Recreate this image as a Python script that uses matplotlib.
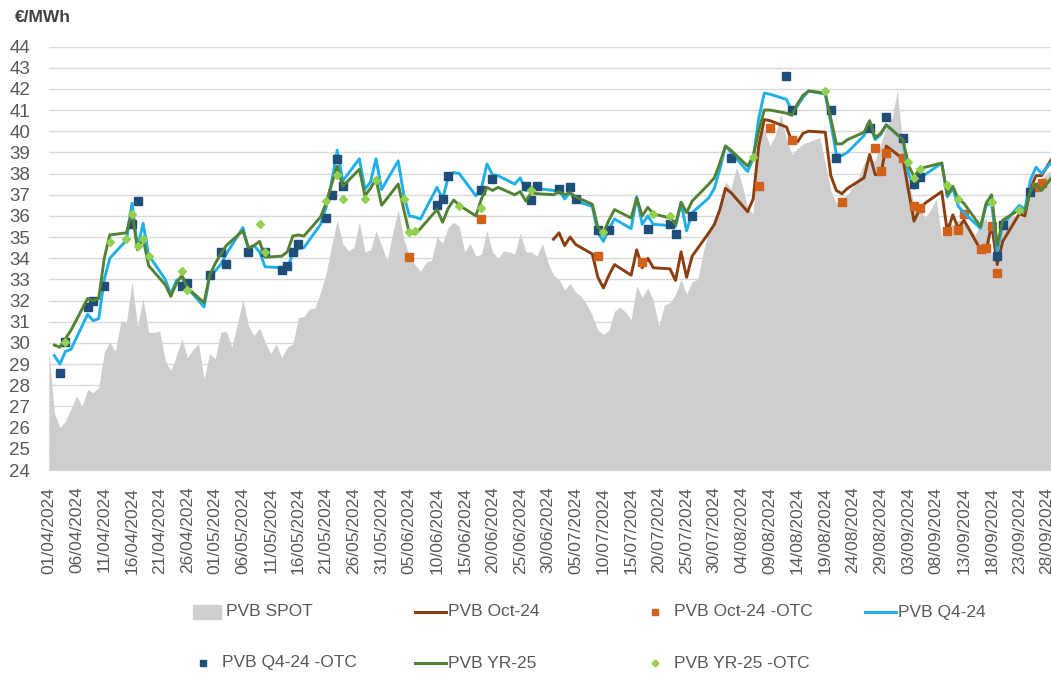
import pandas as pd
import matplotlib
matplotlib.use("Agg")
import matplotlib.pyplot as plt
import matplotlib.dates as mdates
from matplotlib.lines import Line2D
from matplotlib.patches import Rectangle

# daily spot, from 01/04/2024
spot_start = "2024-04-01"
spot = [29.6, 26.7, 26.0, 26.3, 26.9, 27.5, 27.0, 27.8, 27.65, 27.9,
        29.55, 30.05, 29.6, 31.05, 30.95, 32.9, 30.8, 32.1, 30.5, 30.5,
        30.55, 29.15, 28.7, 29.4, 30.2, 29.3, 29.7, 29.95, 28.3, 29.5,
        29.25, 30.5, 30.55, 29.8, 30.9, 32.05, 30.8, 30.35, 30.7, 30.05,
        29.5, 29.95, 29.3, 29.8, 29.95, 31.2, 31.25, 31.6, 31.65, 32.4,
        33.3, 34.6, 35.8, 34.7, 34.35, 34.5, 35.7, 34.3, 34.4, 35.3,
        34.6, 33.9, 35.2, 36.3, 34.9, 34.1, 33.7, 33.4, 33.8, 33.9,
        35.0, 34.7, 35.45, 35.7, 35.5, 34.3, 34.7, 34.1, 34.2, 35.3,
        34.3, 34.0, 34.35, 34.3, 34.2, 35.2, 34.3, 34.3, 34.1, 34.7,
        33.8, 33.2, 33.0, 32.5, 32.8, 32.4, 32.2, 31.8, 31.3, 30.6,
        30.4, 30.6, 31.5, 31.7, 31.45, 31.1, 32.7, 32.15, 32.6, 32.0,
        30.8, 31.8, 31.9, 32.3, 33.0, 32.3, 32.9, 33.0, 34.3, 35.3,
        35.6, 36.4, 37.6, 37.3, 38.3, 37.5, 36.4, 36.1, 39.7, 40.1,
        39.3, 39.8, 40.85, 39.6, 38.9, 39.2, 39.4, 39.5, 39.6, 39.7,
        38.5, 37.2, 36.6, 36.8, 37.0, 37.4, 37.8, 38.5, 38.7, 38.6,
        39.4, 40.2, 40.6, 41.9, 39.3, 37.6, 36.6, 36.4, 35.9, 36.3,
        36.8, 34.9, 35.7, 35.6, 35.8, 35.8, 35.5, 35.1, 35.6, 35.9,
        34.1, 35.0, 35.5, 35.9, 36.0, 36.1, 36.7, 37.3, 37.6, 37.8,
        38.0, 38.2, 38.4]

# forward settlements, business days
fwd_start = "2024-04-02"
fwd_end = "2024-09-30"
q4_24 = [29.4, 29.0, 29.6, 29.7,
         31.35, 31.05, 31.15, 33.0, 34.0,
         34.85, 36.6, 34.5, 35.65, 34.15,
         33.0, 32.3, 32.95, 33.1, 32.6,
         31.7, 33.15, 33.4, 33.7, 34.2,
         35.45, 34.4, 34.6, 34.3, 33.6,
         33.55, 33.55, 34.2, 34.45, 34.5,
         35.6, 36.4, 37.6, 39.1, 37.65,
         38.7, 37.25, 37.6, 38.7, 37.25,
         38.6, 37.0, 36.0, 35.95, 35.85,
         37.35, 36.8, 37.8, 38.05, 38.0,
         36.95, 37.3, 38.45, 37.95, 37.9,
         37.5, 37.8, 37.2, 37.35, 37.3,
         37.2, 37.2, 36.8, 37.1, 36.7,
         36.45, 35.2, 34.8, 35.4, 35.85,
         35.4, 36.9, 35.6, 36.0, 35.6,
         35.55, 35.5, 36.6, 35.3, 36.15,
         36.85, 37.3, 38.2, 39.3, 39.0,
         38.1, 38.7, 40.6, 41.8, 41.75,
         41.5, 40.95, 41.2, 41.6, 41.9,
         41.75, 40.4, 38.9, 38.85, 39.0,
         39.8, 40.3, 39.6, 39.85, 40.3,
         39.6, 38.0, 37.3, 37.75, 37.95,
         38.5, 36.9, 37.3, 36.45, 36.15,
         35.4, 36.5, 36.6, 34.3, 35.6,
         36.5, 36.3, 37.7, 38.3, 38.0,
         38.9]
yr_25 = [29.9, 29.8, 30.2, 30.6,
         32.1, 32.0, 32.1, 34.0, 35.1,
         35.2, 36.2, 34.4, 34.95, 33.65,
         32.75, 32.2, 32.8, 33.2, 32.6,
         31.9, 33.2, 33.75, 34.2, 34.6,
         35.3, 34.5, 34.6, 34.8, 34.05,
         34.1, 34.3, 35.05, 35.1, 35.05,
         35.95, 36.6, 37.5, 38.35, 37.4,
         38.2, 36.95, 37.3, 37.75, 36.5,
         37.5, 36.3, 35.2, 35.15, 35.4,
         36.3, 35.7, 36.35, 36.75, 36.5,
         36.0, 36.8, 37.35, 37.2, 37.35,
         37.0, 37.15, 36.7, 37.1, 37.05,
         37.0, 37.15, 37.0, 37.1, 36.9,
         36.55, 35.45, 35.2, 35.8, 36.3,
         35.9, 36.85, 36.0, 36.4, 36.1,
         35.9, 35.6, 36.65, 36.15, 36.7,
         37.5, 37.8, 38.5, 39.3, 39.1,
         38.35, 38.8, 40.0, 41.0, 41.0,
         40.85, 40.75, 41.3, 41.7, 41.9,
         41.8, 40.6, 39.4, 39.4, 39.6,
         39.95, 40.5, 39.7, 39.9, 40.3,
         39.6, 38.4, 37.85, 38.2, 38.3,
         38.5, 37.0, 37.4, 36.8, 36.6,
         35.5, 36.6, 37.0, 34.6, 35.8,
         36.3, 36.2, 37.2, 37.5, 37.2,
         38.2]
oct_start = "2024-07-01"
oct_24 = [34.9, 35.2, 34.6, 35.0, 34.65,
          34.2, 33.1, 32.6, 33.2, 33.7,
          33.2, 34.4, 33.55, 34.0, 33.55,
          33.5, 32.95, 34.3, 33.1, 34.1,
          35.2, 35.6, 36.3, 37.3, 37.1,
          36.2, 36.8, 39.3, 40.55, 40.5,
          40.2, 39.5, 39.5, 39.9, 40.0,
          39.95, 37.9, 37.2, 37.05, 37.3,
          37.8, 38.9, 37.95, 37.95, 39.3,
          38.7, 37.2, 35.75, 36.3, 36.6,
          37.15, 35.25, 36.05, 35.4, 35.8,
          34.4, 34.35, 35.6, 33.7, 34.8,
          36.1, 36.0, 37.3, 37.9, 37.9,
          39.2]

# OTC trades
oct_otc_dates = ["2024-06-05", "2024-06-18", "2024-07-09", "2024-07-17", "2024-08-07",
                 "2024-08-09", "2024-08-13", "2024-08-22", "2024-08-28", "2024-08-29",
                 "2024-08-30", "2024-09-02", "2024-09-04", "2024-09-05", "2024-09-10",
                 "2024-09-12", "2024-09-13", "2024-09-16", "2024-09-17", "2024-09-18",
                 "2024-09-19", "2024-09-26", "2024-09-27"]
oct_otc = [34.05, 35.85, 34.1, 33.8, 37.4,
           40.15, 39.6, 36.65, 39.2, 38.1,
           38.95, 38.75, 36.45, 36.35, 35.3,
           35.35, 36.1, 34.45, 34.5, 35.5,
           33.3, 37.35, 37.55]

q4_otc_dates = ["2024-04-03", "2024-04-04", "2024-04-08", "2024-04-09", "2024-04-11",
                "2024-04-16", "2024-04-17", "2024-04-25", "2024-04-26", "2024-04-30",
                "2024-05-02", "2024-05-03", "2024-05-07", "2024-05-10", "2024-05-13",
                "2024-05-14", "2024-05-15", "2024-05-16", "2024-05-21", "2024-05-22",
                "2024-05-23", "2024-05-24", "2024-06-10", "2024-06-11", "2024-06-12",
                "2024-06-18", "2024-06-20", "2024-06-26", "2024-06-27", "2024-06-28",
                "2024-07-02", "2024-07-04", "2024-07-05", "2024-07-09", "2024-07-11",
                "2024-07-18", "2024-07-22", "2024-07-23", "2024-07-26", "2024-08-02",
                "2024-08-12", "2024-08-13", "2024-08-20", "2024-08-21", "2024-08-27",
                "2024-08-30", "2024-09-02", "2024-09-04", "2024-09-05", "2024-09-19",
                "2024-09-20", "2024-09-25"]
q4_otc = [28.6, 30.05, 31.7, 32.0, 32.7,
          35.6, 36.7, 32.7, 32.85, 33.2,
          34.3, 33.75, 34.3, 34.3, 33.45,
          33.65, 34.3, 34.65, 35.9, 37.0,
          38.7, 37.4, 36.5, 36.8, 37.9,
          37.2, 37.75, 37.4, 36.75, 37.4,
          37.25, 37.35, 36.8, 35.35, 35.35,
          35.4, 35.6, 35.15, 36.0, 38.75,
          42.6, 41.0, 41.0, 38.75, 40.15,
          40.65, 39.7, 37.5, 37.85, 34.1,
          35.55, 37.15]

yr_otc_dates = ["2024-04-04", "2024-04-12", "2024-04-15", "2024-04-16", "2024-04-17",
                "2024-04-18", "2024-04-19", "2024-04-25", "2024-04-26", "2024-05-09",
                "2024-05-10", "2024-05-21", "2024-05-23", "2024-05-24", "2024-05-28",
                "2024-05-30", "2024-06-04", "2024-06-05", "2024-06-06", "2024-06-14",
                "2024-06-18", "2024-06-27", "2024-07-10", "2024-07-19", "2024-07-22",
                "2024-08-06", "2024-08-19", "2024-09-03", "2024-09-04", "2024-09-05",
                "2024-09-10", "2024-09-12", "2024-09-18", "2024-09-23"]
yr_otc = [30.05, 34.75, 34.9, 36.1, 34.6,
          34.9, 34.1, 33.4, 32.5, 35.6,
          34.3, 36.7, 37.95, 36.8, 36.8,
          37.7, 36.8, 35.25, 35.3, 36.45,
          36.35, 37.2, 35.25, 36.1, 36.0,
          38.8, 41.9, 38.55, 37.8, 38.2,
          37.45, 36.8, 36.65, 36.3]

C_SPOT = "#CFCECE"
C_OCT = "#8B3F10"
C_OCT_OTC = "#D2611A"
C_Q4 = "#1FB0E8"
C_Q4_OTC = "#1F4E79"
C_YR = "#548235"
C_YR_OTC = "#92D050"
TXT = "#595959"

plt.rcParams['font.family'] = ['Liberation Sans', 'DejaVu Sans']

spot_dates = pd.date_range(spot_start, periods=len(spot), freq="D")
fwd_dates = pd.bdate_range(fwd_start, fwd_end)
oct_dates = pd.bdate_range(oct_start, fwd_end)

fig = plt.figure(figsize=(10.51, 6.74), dpi=100)
W, H = 1051.0, 674.0
ax = fig.add_axes([48.8 / W, 1 - 470 / H, (W - 48.8) / W, (470 - 46.5) / H])

ax.fill_between(spot_dates, 24, spot, color=C_SPOT, lw=0, zorder=1)
ax.plot(oct_dates, oct_24, color=C_OCT, lw=2.1, zorder=2)
ax.plot(pd.to_datetime(oct_otc_dates), oct_otc, ls="none", marker="s", ms=6,
        color=C_OCT_OTC, zorder=3)
ax.plot(fwd_dates, q4_24, color=C_Q4, lw=2.1, zorder=4)
ax.plot(pd.to_datetime(q4_otc_dates), q4_otc, ls="none", marker="s", ms=6,
        color=C_Q4_OTC, zorder=5)
ax.plot(fwd_dates, yr_25, color=C_YR, lw=2.1, zorder=6)
ax.plot(pd.to_datetime(yr_otc_dates), yr_otc, ls="none", marker="D", ms=4.3,
        color=C_YR_OTC, zorder=7)

ax.set_ylim(24, 44)
ax.set_yticks(range(24, 45))
ax.set_xlim(pd.Timestamp(spot_start), pd.Timestamp(spot_start) + pd.Timedelta(days=180.7))
ax.set_xticks(pd.date_range(spot_start, "2024-09-30", freq="5D"))
ax.xaxis.set_major_formatter(mdates.DateFormatter("%d/%m/%Y"))

ax.yaxis.grid(True, color="#D9D9D9", lw=1.0)
ax.set_axisbelow(True)
for s in ["top", "right", "left"]:
    ax.spines[s].set_visible(False)
ax.spines["bottom"].set_color("#D9D9D9")
ax.tick_params(axis="y", length=0, pad=13.5, labelsize=13.5, labelcolor=TXT)
ax.tick_params(axis="x", length=0, pad=12, labelsize=12.5, labelcolor=TXT,
               labelrotation=90)

fig.text(15 / W, 1 - 17 / H, "€/MWh", fontsize=12.5, fontweight="bold",
         color="#404040", va="center", ha="left")


# legend drawn by hand, Excel-style fixed column positions
def px(x, y):
    return x / W, 1 - y / H


def leg_line(x0, y, color, label):
    a, b = px(x0, y)
    c, _ = px(x0 + 31, y)
    fig.add_artist(Line2D([a, c], [b, b], color=color, lw=2.2, transform=fig.transFigure))
    fig.text(px(x0 + 33, y)[0], b, label, fontsize=12.5, color=TXT, va="center")


def leg_marker(xc, y, marker, ms, color, label):
    a, b = px(xc, y)
    fig.add_artist(Line2D([a], [b], marker=marker, ms=ms, color=color, ls="none",
                          transform=fig.transFigure))
    fig.text(px(xc + 19, y)[0], b, label, fontsize=12.5, color=TXT, va="center")


r1, r2 = 612, 663
a, b = px(193, r1 + 7)
fig.add_artist(Rectangle((a, b), 28 / W, 14 / H, color=C_SPOT, transform=fig.transFigure))
fig.text(px(226, r1)[0], px(0, r1)[1], "PVB SPOT", fontsize=12.5, color=TXT, va="center")
leg_line(415, r1, C_OCT, "PVB Oct-24")
leg_marker(655, r1, "s", 4.5, C_OCT_OTC, "PVB Oct-24 -OTC")
leg_line(865, r1, C_Q4, "PVB Q4-24")
leg_marker(203, r2, "s", 4.5, C_Q4_OTC, "PVB Q4-24 -OTC")
leg_line(415, r2, C_YR, "PVB YR-25")
leg_marker(655, r2, "D", 3.5, C_YR_OTC, "PVB YR-25 -OTC")

fig.savefig("out.png", dpi=100)
